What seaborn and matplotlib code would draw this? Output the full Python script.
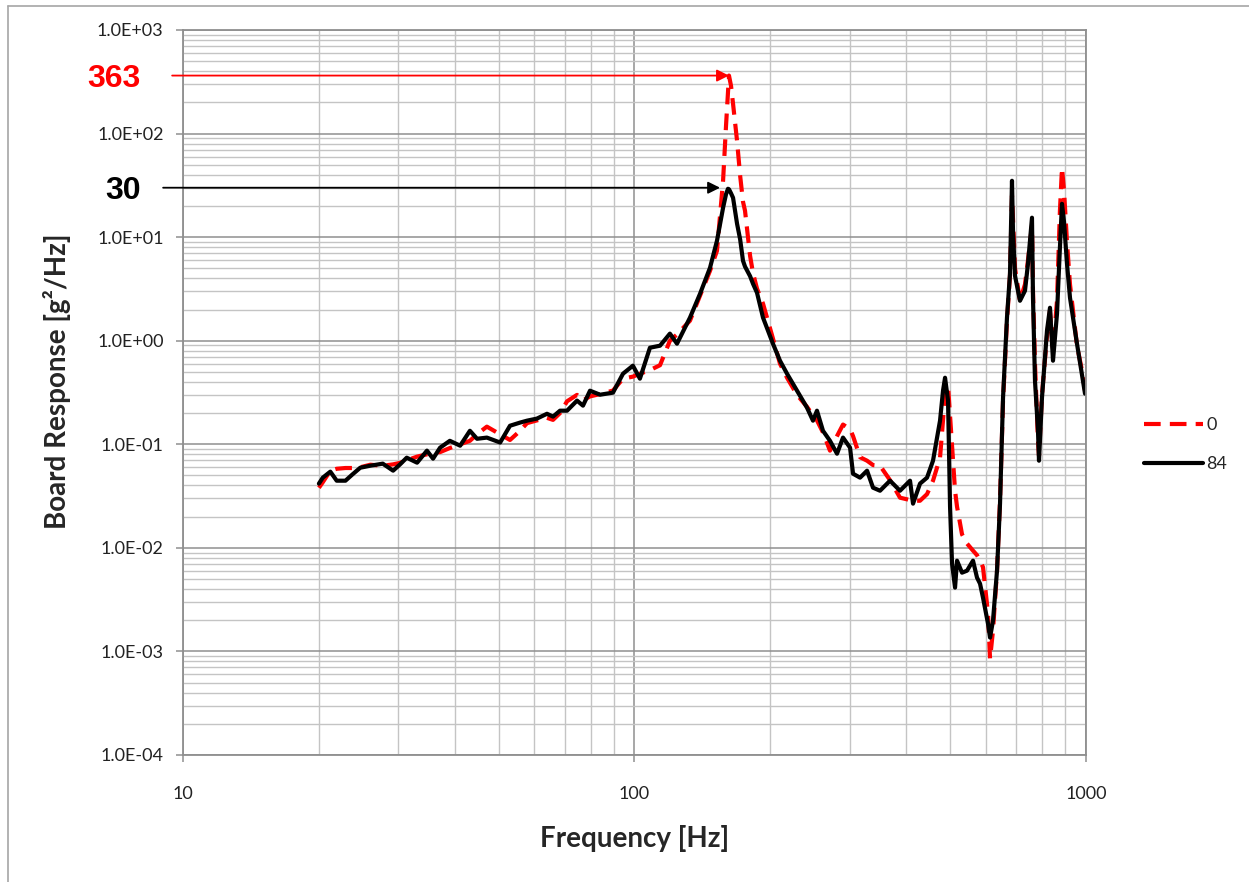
import numpy as np
import pandas as pd
import matplotlib
matplotlib.use("Agg")
import matplotlib.pyplot as plt
import seaborn as sns
from matplotlib.lines import Line2D
from matplotlib.ticker import LogLocator, FuncFormatter, NullFormatter

# frequency grid [Hz]
freq = [20.0, 20.4, 21.2, 21.9, 22.9, 23.7, 24.7, 26.0, 27.7, 29.2,
        30.2, 31.3, 33.0, 34.7, 35.8, 37.1, 39.0, 41.1, 43.2, 44.8,
        47.1, 50.4, 53.0, 55.8, 57.8, 60.8, 64.0, 66.0, 68.4, 70.9,
        74.6, 76.9, 79.7, 83.9, 89.6, 94.3, 99.2, 102.8, 108.2, 113.9,
        119.8, 124.2, 132.7, 139.7, 147.0, 152.3, 157.1, 159.5, 161.1, 161.9,
        163.6, 165.3, 168.7, 171.4, 173.9, 175.7, 180.3, 183.0, 186.8, 192.6,
        202.6, 210.0, 217.7, 229.1, 241.0, 248.5, 253.6, 261.5, 271.0, 280.9,
        289.6, 300.2, 304.8, 315.9, 327.4, 337.5, 349.8, 368.1, 387.3, 407.6,
        413.9, 428.9, 444.5, 458.3, 475.0, 482.3, 487.3, 494.8, 499.9, 505.0,
        512.8, 518.0, 531.4, 545.1, 562.0, 573.6, 582.5, 591.4, 606.7, 613.0,
        622.3, 635.2, 645.0, 655.0, 668.3, 678.6, 685.6, 689.1, 696.2, 714.1,
        732.6, 743.9, 759.2, 763.1, 770.9, 782.8, 786.8, 798.9, 819.6, 832.2,
        845.1, 862.5, 875.5, 884.7, 894.0, 907.6, 921.6, 955.0, 984.8, 995.0]

# board response [g^2/Hz], series "0" (red dashed)
resp_0 = [0.038, 0.043, 0.0556, 0.058, 0.059, 0.059, 0.060, 0.0635, 0.062, 0.064,
          0.066, 0.070, 0.076, 0.080, 0.083, 0.084, 0.092, 0.100, 0.108, 0.125,
          0.148, 0.125, 0.110, 0.135, 0.160, 0.170, 0.180, 0.172, 0.200, 0.260,
          0.300, 0.265, 0.290, 0.305, 0.330, 0.430, 0.450, 0.480, 0.520, 0.580,
          1.00, 1.15, 1.56, 2.72, 4.74, 7.39, 35.0, 120.0, 250.0, 363.0,
          289.0, 194.0, 85.2, 39.1, 22.0, 18.0, 6.6, 4.5, 3.18, 2.28,
          1.05, 0.600, 0.439, 0.300, 0.230, 0.190, 0.170, 0.130, 0.0868, 0.120,
          0.155, 0.140, 0.120, 0.075, 0.0694, 0.063, 0.0621, 0.045, 0.0305, 0.029,
          0.0285, 0.0285, 0.033, 0.0445, 0.0742, 0.169, 0.300, 0.368, 0.190, 0.100,
          0.0356, 0.025, 0.0135, 0.011, 0.0094, 0.0085, 0.00752, 0.0065, 0.00232, 0.00085,
          0.00159, 0.006, 0.0285, 0.264, 1.56, 4.24, 25.1, 15.0, 5.0, 2.43,
          3.5, 6.0, 12.9, 3.0, 0.6, 0.108, 0.0776, 0.300, 1.12, 1.95,
          0.80, 2.43, 18.0, 46.8, 28.1, 9.0, 3.5, 0.90, 0.459, 0.330]

# board response [g^2/Hz], series "84" (black solid)
resp_84 = [0.0417, 0.0476, 0.0544, 0.0445, 0.0445, 0.0509, 0.0594, 0.0621, 0.0650, 0.0556,
           0.0635, 0.0742, 0.0664, 0.0868, 0.0726, 0.0927, 0.108, 0.0969, 0.135, 0.113,
           0.116, 0.104, 0.151, 0.162, 0.169, 0.177, 0.197, 0.185, 0.211, 0.211,
           0.264, 0.236, 0.329, 0.301, 0.315, 0.480, 0.574, 0.430, 0.856, 0.895,
           1.17, 0.936, 1.67, 2.84, 5.07, 9.23, 19.2, 26.0, 29.3, 29.0,
           26.5, 24.0, 13.5, 9.5, 5.92, 5.2, 4.2, 3.55, 2.9, 1.67,
           0.936, 0.641, 0.480, 0.329, 0.226, 0.169, 0.211, 0.135, 0.108, 0.0811,
           0.116, 0.0927, 0.052, 0.0476, 0.0556, 0.0381, 0.0356, 0.0445, 0.0356, 0.0445,
           0.0267, 0.0417, 0.0476, 0.0694, 0.169, 0.329, 0.439, 0.264, 0.025, 0.00704,
           0.00413, 0.00752, 0.00576, 0.00602, 0.00752, 0.00516, 0.00451, 0.0033, 0.00185, 0.00136,
           0.00198, 0.00602, 0.0267, 0.282, 1.67, 4.43, 35.0, 11.5, 4.24, 2.43,
           3.04, 5.54, 15.4, 2.60, 0.411, 0.135, 0.0694, 0.282, 1.25, 2.08,
           0.641, 1.82, 8.0, 21.0, 14.0, 5.54, 2.60, 0.936, 0.411, 0.308]

series_labels = ["0", "84"]
peak_0_freq, peak_0 = 161.9, 363
peak_84_freq, peak_84 = 154.7, 30

assert len(freq) == len(resp_0) == len(resp_84)

df = pd.DataFrame({
    "Frequency": freq * 2,
    "Response": resp_0 + resp_84,
    "series": [series_labels[0]] * len(freq) + [series_labels[1]] * len(freq),
})

sns.set_style("white")
plt.rcParams["font.family"] = ["Lato", "DejaVu Sans"]

fig = plt.figure(figsize=(12.49, 8.82), dpi=100)
ax = fig.add_axes([0.1465, 0.144, 0.723, 0.822])

sns.lineplot(data=df, x="Frequency", y="Response", hue="series", style="series",
             palette={"0": "#ff0000", "84": "black"},
             dashes={"0": (4, 2.2), "84": ""},
             linewidth=3.0, sort=False, estimator=None, ax=ax)

ax.set_xscale("log")
ax.set_yscale("log")
ax.set_xlim(10, 1000)
ax.set_ylim(1e-4, 1e3)

ax.yaxis.set_major_locator(LogLocator(base=10, numticks=20))
ax.yaxis.set_minor_locator(LogLocator(base=10, subs=np.arange(2, 10), numticks=100))
ax.yaxis.set_major_formatter(FuncFormatter(lambda v, p: f"{v:.1E}"))
ax.yaxis.set_minor_formatter(NullFormatter())
ax.xaxis.set_major_locator(LogLocator(base=10, numticks=10))
ax.xaxis.set_minor_locator(LogLocator(base=10, subs=np.arange(2, 10), numticks=100))
ax.xaxis.set_major_formatter(FuncFormatter(lambda v, p: f"{v:g}"))
ax.xaxis.set_minor_formatter(NullFormatter())

ax.grid(which="major", color="#8f8f8f", linewidth=1.1)
ax.grid(which="minor", color="#c4c4c4", linewidth=1.0)
for s in ax.spines.values():
    s.set_color("#8f8f8f")
    s.set_linewidth(1.3)
ax.tick_params(which="major", direction="out", length=5, width=1.1, color="#8f8f8f",
               labelsize=13, labelcolor="#222222", left=True, bottom=True)
ax.tick_params(axis="y", pad=9)
ax.tick_params(axis="x", pad=17)
ax.tick_params(which="minor", length=0)

ax.set_xlabel("Frequency [Hz]", fontsize=20, fontweight="bold")
ax.set_ylabel("Board Response [g²/Hz]", fontsize=20, fontweight="bold")
ax.xaxis.set_label_coords(0.5005, -0.097)
ax.yaxis.set_label_coords(-0.124, 0.516)

# peak call-outs
yt = ax.get_yaxis_transform()
ax.annotate("", xy=(peak_0_freq, peak_0), xycoords="data",
            xytext=(-0.012, peak_0), textcoords=yt,
            arrowprops=dict(arrowstyle="-|>", color="#ff0000", lw=1.3,
                            mutation_scale=18, shrinkA=0, shrinkB=0),
            annotation_clip=False)
ax.annotate("", xy=(peak_84_freq, peak_84), xycoords="data",
            xytext=(-0.022, peak_84), textcoords=yt,
            arrowprops=dict(arrowstyle="-|>", color="black", lw=1.3,
                            mutation_scale=18, shrinkA=0, shrinkB=0),
            annotation_clip=False)
ax.text(-0.047, peak_0, str(peak_0), transform=yt, ha="right", va="center_baseline",
        color="#ff0000", fontsize=23, fontweight="bold", family="Liberation Sans")
ax.text(-0.047, peak_84, str(peak_84), transform=yt, ha="right", va="center_baseline",
        color="black", fontsize=23, fontweight="bold", family="Liberation Sans")

ax.legend(loc="center left", bbox_to_anchor=(1.046, 0.428), frameon=False,
          handlelength=3.3, handletextpad=0.15, fontsize=13, labelspacing=1.3, title=None)

# outer chart frame (left and top edges visible)
fig.add_artist(Line2D([0.0065, 0.0065], [0.0, 0.993], transform=fig.transFigure,
                      color="#a6a6a6", lw=1.2))
fig.add_artist(Line2D([0.0065, 1.0], [0.993, 0.993], transform=fig.transFigure,
                      color="#a6a6a6", lw=1.2))

fig.savefig("out.png", dpi=100)
